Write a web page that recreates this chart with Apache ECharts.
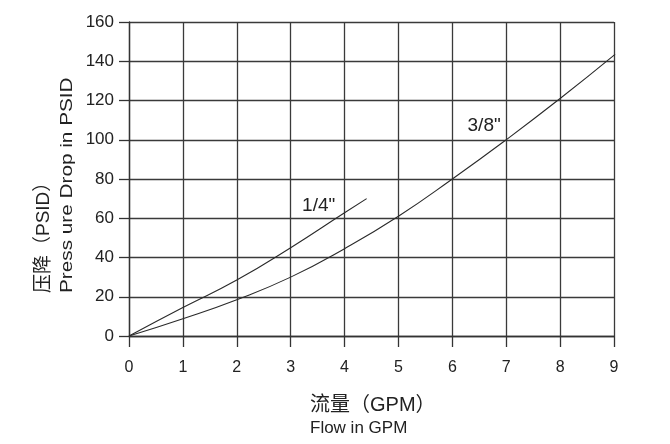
<!DOCTYPE html>
<html>
<head>
<meta charset="utf-8">
<script src="https://cdn.jsdelivr.net/npm/echarts@6/dist/echarts.min.js"></script>
<style>
html,body{margin:0;padding:0;background:#fff;}
#chart{width:670px;height:444px;}
</style>
</head>
<body>
<div id="chart"></div>
<script>
// ---- data ----
var xTicks = [0,1,2,3,4,5,6,7,8,9];
var yTicks = [0,20,40,60,80,100,120,140,160];
var quarterFlow  = [0, 1, 2, 3, 4, 4.41];
var quarterPress = [0, 14.5, 28.5, 45, 62.8, 70];
var threeEighthFlow  = [0, 1, 2, 3, 4, 5, 6, 7, 8, 9.02];
var threeEighthPress = [0, 8.8, 18.5, 30, 44.5, 61, 80, 100, 121, 143.5];
var seriesNames = ['1/4"', '3/8"'];
var labelPos = [[3.52, 66.5], [6.59, 107]];
var yTitle = ['压降（PSID）', 'Press ure Drop in PSID'];
var xTitle = ['流量（GPM）', 'Flow in GPM'];

var FONT = "'Liberation Sans', 'Noto Sans CJK SC', sans-serif";
function pairs(xs, ys){ return xs.map(function(x,i){ return [x, ys[i]]; }); }

var chart = echarts.init(document.getElementById('chart'), null, {renderer:'canvas'});
var lineStyle = {color:'#2a2a2a', width:1.1};
function mk(name, data, pos){
  return {
    type:'line', name:name, data:data, smooth:true, symbol:'none',
    lineStyle:lineStyle, animation:false,
    markPoint:{
      symbol:'circle', symbolSize:1, itemStyle:{color:'rgba(0,0,0,0)'},
      label:{show:true, position:'inside', formatter:name, fontSize:19, color:'#222', fontFamily:FONT},
      data:[{coord:pos}]
    }
  };
}
chart.setOption({
  backgroundColor:'#fff',
  animation:false,
  grid:{left:129, right:56, top:22, bottom:108, containLabel:false},
  xAxis:{
    type:'value', min:xTicks[0], max:xTicks[xTicks.length-1], interval:1,
    axisLine:{show:true, onZero:false, lineStyle:{color:'#333', width:1.3}},
    axisTick:{show:true, length:11, lineStyle:{color:'#333', width:1.3}},
    axisLabel:{fontSize:16, margin:24, color:'#222', fontFamily:FONT},
    splitLine:{show:true, lineStyle:{color:'#3a3a3a', width:1.3}}
  },
  yAxis:{
    type:'value', min:yTicks[0], max:yTicks[yTicks.length-1], interval:20,
    axisLine:{show:true, onZero:false, lineStyle:{color:'#333', width:1.3}},
    axisTick:{show:true, length:10, lineStyle:{color:'#333', width:1.3}},
    axisLabel:{fontSize:17, margin:15, color:'#222', fontFamily:FONT},
    splitLine:{show:true, lineStyle:{color:'#3a3a3a', width:1.3}}
  },
  series:[
    mk(seriesNames[0], pairs(quarterFlow, quarterPress), labelPos[0]),
    mk(seriesNames[1], pairs(threeEighthFlow, threeEighthPress), labelPos[1])
  ],
  graphic:[
    {type:'text', x:44, y:293, rotation:Math.PI/2,
     style:{text:yTitle[0], fontSize:19, fill:'#222', fontFamily:FONT, align:'left', verticalAlign:'middle'}},
    {type:'text', x:67, y:293, rotation:Math.PI/2, scaleX:1.22,
     style:{text:yTitle[1], fontSize:17, fill:'#222', fontFamily:FONT, align:'left', verticalAlign:'middle'}},
    {type:'text', x:310, y:405,
     style:{text:xTitle[0], fontSize:20, fill:'#222', fontFamily:FONT, align:'left', verticalAlign:'middle'}},
    {type:'text', x:310, y:428,
     style:{text:xTitle[1], fontSize:17, fill:'#222', fontFamily:FONT, align:'left', verticalAlign:'middle'}}
  ]
});
</script>
</body>
</html>
